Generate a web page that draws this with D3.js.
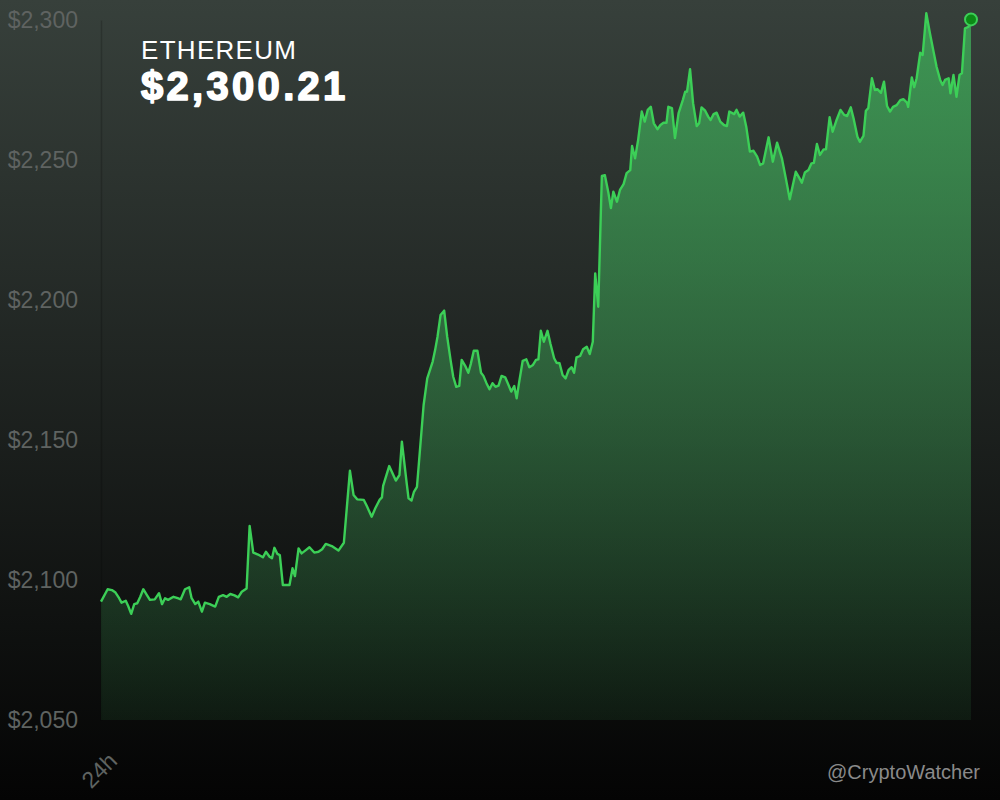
<!DOCTYPE html>
<html>
<head>
<meta charset="utf-8">
<script src="https://cdn.jsdelivr.net/npm/d3@7"></script>
<style>
  body { margin: 0; background: #050505; }
</style>
</head>
<body>
<script>

//******************************************************************************
// Data ************************************************************************

    // minutes since the start of the 24h window
    var times = [
        0, 11, 18, 24, 30, 34, 41, 45, 50, 55,
        60, 65, 70, 76, 81, 89, 96, 101, 106, 111,
        120, 127, 132, 139, 146, 150, 156, 161, 167, 172,
        180, 189, 195, 202, 208, 214, 221, 227, 233, 241,
        246, 252, 260, 268, 273, 279, 283, 287, 292, 296,
        301, 312, 317, 321, 327, 332, 338, 345, 353, 360,
        366, 372, 382, 393, 402, 412, 418, 424, 435, 440,
        448, 454, 461, 465, 467, 477, 488, 494, 498, 506,
        509, 514, 518, 523, 534, 540, 549, 553, 557, 562,
        568, 573, 579, 583, 588, 593, 597, 603, 608, 612,
        617, 623, 629, 633, 638, 643, 648, 653, 658, 663,
        669, 674, 679, 684, 688, 692, 698, 704, 709, 715,
        720, 724, 728, 733, 739, 744, 750, 754, 759, 764,
        769, 774, 779, 783, 787, 793, 798, 804, 809, 814,
        818, 823, 829, 834, 840, 844, 848, 854, 859, 865,
        870, 876, 879, 884, 889, 895, 900, 905, 910, 915,
        921, 926, 931, 936, 939, 945, 950, 956, 963, 967,
        970, 975, 980, 986, 990, 994, 1000, 1005, 1009, 1014,
        1019, 1025, 1031, 1036, 1040, 1048, 1052, 1057, 1063, 1068,
        1074, 1080, 1086, 1091, 1096, 1105, 1112, 1119, 1127, 1134,
        1140, 1146, 1150, 1156, 1160, 1165, 1171, 1176, 1180, 1185,
        1190, 1196, 1200, 1206, 1211, 1217, 1224, 1230, 1235, 1241,
        1246, 1252, 1256, 1262, 1266, 1270, 1276, 1281, 1285, 1291,
        1296, 1301, 1306, 1311, 1317, 1323, 1328, 1334, 1336, 1342,
        1346, 1350, 1356, 1360, 1366, 1372, 1378, 1383, 1389, 1393,
        1397, 1403, 1406, 1411, 1416, 1421, 1425, 1430, 1436, 1440
    ];

    // ETH price in USD
    var prices = [
        2092.3, 2096.7, 2096.4, 2095.5, 2093.5, 2091.9, 2092.6, 2090.7, 2087.9, 2091.4,
        2091.7, 2094.0, 2096.7, 2094.6, 2092.9, 2093.1, 2095.3, 2091.4, 2093.5, 2092.9,
        2094.0, 2093.5, 2093.1, 2096.7, 2097.4, 2093.5, 2091.4, 2092.3, 2088.7, 2091.9,
        2091.4, 2090.5, 2094.0, 2094.6, 2094.0, 2095.0, 2094.5, 2093.8, 2095.8, 2097.0,
        2119.3, 2109.8, 2109.1, 2108.1, 2110.1, 2108.3, 2107.8, 2111.5, 2109.3, 2108.9,
        2098.2, 2098.2, 2104.2, 2101.4, 2111.3, 2109.5, 2110.5, 2111.7, 2109.8, 2110.1,
        2111.0, 2112.9, 2112.1, 2110.5, 2113.3, 2139.0, 2130.4, 2128.8, 2128.6, 2126.4,
        2122.6, 2125.6, 2128.6, 2129.5, 2133.6, 2140.7, 2135.5, 2137.5, 2149.4, 2134.5,
        2129.2, 2128.4, 2131.5, 2133.3, 2162.5, 2172.0, 2178.0, 2182.1, 2186.9, 2194.6,
        2196.2, 2186.9, 2178.0, 2172.6, 2169.0, 2169.3, 2178.6, 2176.4, 2174.0, 2177.1,
        2181.9, 2181.9, 2174.0, 2172.9, 2170.3, 2168.1, 2170.3, 2169.0, 2169.4, 2172.9,
        2172.4, 2169.9, 2167.3, 2169.3, 2164.9, 2170.5, 2178.3, 2178.8, 2176.0, 2176.8,
        2178.6, 2178.8, 2189.0, 2185.1, 2189.0, 2184.3, 2179.2, 2177.6, 2177.4, 2173.2,
        2172.0, 2175.0, 2176.0, 2174.0, 2179.5, 2180.0, 2182.4, 2183.3, 2180.7, 2185.1,
        2209.5, 2197.6, 2244.3, 2244.6, 2238.1, 2232.8, 2238.7, 2235.1, 2239.3, 2241.4,
        2245.3, 2246.4, 2255.0, 2250.6, 2257.1, 2267.3, 2263.7, 2267.9, 2269.0, 2263.1,
        2261.0, 2262.5, 2263.3, 2263.3, 2269.0, 2268.5, 2257.8, 2266.7, 2271.4, 2274.4,
        2274.4, 2282.4, 2270.3, 2262.1, 2263.1, 2268.8, 2267.6, 2265.5, 2264.3, 2266.4,
        2266.9, 2263.7, 2262.5, 2262.1, 2267.3, 2266.4, 2267.9, 2265.5, 2266.9, 2261.9,
        2253.0, 2253.3, 2251.2, 2248.2, 2248.8, 2258.1, 2249.4, 2256.2, 2250.6, 2242.9,
        2236.0, 2241.9, 2245.8, 2243.5, 2241.9, 2245.5, 2246.4, 2248.8, 2249.0, 2255.7,
        2251.8, 2253.8, 2253.8, 2265.3, 2260.1, 2264.0, 2267.9, 2266.1, 2265.7, 2268.8,
        2264.5, 2258.3, 2256.5, 2258.6, 2267.6, 2268.5, 2279.2, 2275.0, 2275.3, 2274.0,
        2278.0, 2269.3, 2267.3, 2269.0, 2269.6, 2271.4, 2271.7, 2270.5, 2269.0, 2279.5,
        2276.0, 2279.2, 2288.3, 2287.5, 2302.4, 2295.3, 2288.7, 2283.3, 2278.6, 2276.8,
        2278.6, 2279.2, 2273.8, 2280.4, 2272.6, 2280.4, 2281.0, 2297.0, 2297.6, 2300.21
    ];

    var yTickValues = [2050, 2100, 2150, 2200, 2250, 2300];
    var xTickValues = [0];
    var xTickLabels = ["24h"];

    var coinName = "ETHEREUM";
    var watermark = "@CryptoWatcher";



//******************************************************************************
// Variables *******************************************************************

    var windowSettings = {
        width : 1000,//px
        height : 800,//px
        bgTop : "#37403b",
        bgBottom : "#040404",
    };

    var graphSettings = {
        marginLeft : 101,//px
        marginRight : 29,//px
        marginTop : 20,//px
        marginBottom : 80,//px

        lineColor : "#3ccf57",
        areaColor : "#3fae5a",
        dotFill : "#0c8a16",
        labelColor : "#5f6361",
        fontFamily : "'Liberation Sans', Arial, sans-serif",
    };



//******************************************************************************
// Initialization **************************************************************

    var svg = d3.select("body").append("svg")
        .attr("width", windowSettings.width)
        .attr("height", windowSettings.height)
        .style("display", "block")
        .style("font-family", graphSettings.fontFamily);

    var defs = svg.append("defs");

    var bgGrad = defs.append("linearGradient") // page background
        .attr("id", "bgGrad")
        .attr("x1", 0).attr("y1", 0).attr("x2", 0).attr("y2", 1);
    bgGrad.append("stop").attr("offset", "0%").attr("stop-color", windowSettings.bgTop);
    bgGrad.append("stop").attr("offset", "100%").attr("stop-color", windowSettings.bgBottom);

    var x = d3.scaleLinear()
        .domain([0, 1440])
        .range([graphSettings.marginLeft, windowSettings.width - graphSettings.marginRight]);

    var y = d3.scaleLinear()
        .domain([2050, 2300])
        .range([windowSettings.height - graphSettings.marginBottom, graphSettings.marginTop]);

    var areaGrad = defs.append("linearGradient") // area fill, bright at top
        .attr("id", "areaGrad")
        .attr("gradientUnits", "userSpaceOnUse")
        .attr("x1", 0).attr("y1", y(2300)).attr("x2", 0).attr("y2", y(2050));
    areaGrad.append("stop").attr("offset", "0%")
        .attr("stop-color", graphSettings.areaColor).attr("stop-opacity", 0.78);
    areaGrad.append("stop").attr("offset", "100%")
        .attr("stop-color", graphSettings.areaColor).attr("stop-opacity", 0.1);

    svg.append("rect")
        .attr("width", windowSettings.width)
        .attr("height", windowSettings.height)
        .attr("fill", "url(#bgGrad)");



//******************************************************************************
// Prog ************************************************************************

    var data = times.map((t, i) => ({ t: t, p: prices[i] }));

    drawAxes();
    drawArea();
    drawTexts();



//******************************************************************************
// Functions *******************************************************************

    function drawAxes(){ // y axis on the left, single "24h" tick below

        var yAxis = svg.append("g")
            .attr("transform", "translate(" + graphSettings.marginLeft + ",0)")
            .call(d3.axisLeft(y)
                .tickValues(yTickValues)
                .tickSize(0)
                .tickPadding(23)
                .tickFormat(d => "$" + d3.format(",")(d)));

        yAxis.select(".domain")
            .attr("stroke", "#000")
            .attr("stroke-opacity", 0.18)
            .attr("stroke-width", 1.5);

        yAxis.selectAll("text")
            .attr("fill", graphSettings.labelColor)
            .style("font-size", "23px")
            .style("font-family", graphSettings.fontFamily);

        var xAxis = svg.append("g")
            .attr("transform", "translate(0," + y(2050) + ")")
            .call(d3.axisBottom(x)
                .tickValues(xTickValues)
                .tickSize(0)
                .tickFormat((d, i) => xTickLabels[i]));

        xAxis.select(".domain").remove();

        xAxis.selectAll("text")
            .attr("fill", graphSettings.labelColor)
            .style("font-size", "23px")
            .style("font-family", graphSettings.fontFamily)
            .style("text-anchor", "end")
            .attr("dx", "-18px")
            .attr("dy", "39px")
            .attr("transform", "rotate(-45)");
    }


    function drawArea(){ // area + line + last point

        var area = d3.area()
            .x(d => x(d.t))
            .y0(y(2050))
            .y1(d => y(d.p));

        var line = d3.line()
            .x(d => x(d.t))
            .y(d => y(d.p));

        svg.append("path")
            .datum(data)
            .attr("d", area)
            .attr("fill", "url(#areaGrad)");

        svg.append("path")
            .datum(data)
            .attr("d", line)
            .attr("fill", "none")
            .attr("stroke", graphSettings.lineColor)
            .attr("stroke-width", 2.4)
            .attr("stroke-linejoin", "round");

        var last = data[data.length - 1];

        svg.append("circle")
            .attr("cx", x(last.t))
            .attr("cy", y(last.p))
            .attr("r", 6)
            .attr("fill", graphSettings.dotFill)
            .attr("stroke", graphSettings.lineColor)
            .attr("stroke-width", 2);
    }


    function drawTexts(){ // title, current price, watermark

        var last = prices[prices.length - 1];

        svg.append("text")
            .attr("x", 141)
            .attr("y", 59)
            .attr("fill", "#ffffff")
            .style("font-size", "26px")
            .style("letter-spacing", "1.3px")
            .text(coinName);

        svg.append("text") // heavy weight: bold + white outline
            .attr("x", 141)
            .attr("y", 100)
            .attr("fill", "#ffffff")
            .attr("stroke", "#ffffff")
            .attr("stroke-width", 1.6)
            .attr("stroke-linejoin", "round")
            .style("font-size", "40px")
            .style("font-weight", "bold")
            .style("letter-spacing", "3.3px")
            .text("$" + d3.format(",.2f")(last));

        svg.append("text")
            .attr("x", 980)
            .attr("y", 779)
            .attr("text-anchor", "end")
            .attr("fill", "#8a8a8a")
            .style("font-size", "20px")
            .text(watermark);
    }

</script>
</body>
</html>
